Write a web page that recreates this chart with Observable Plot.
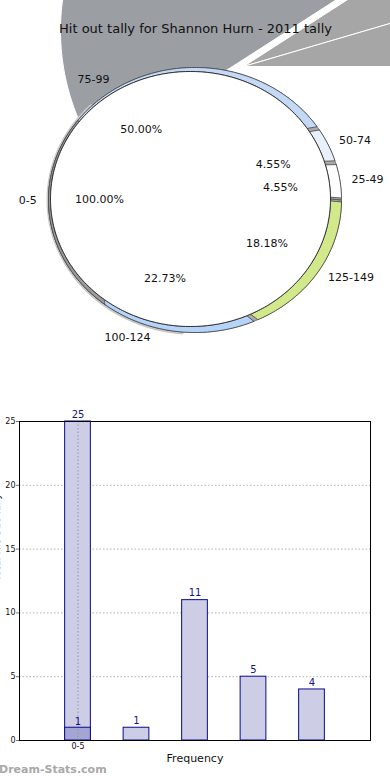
<!DOCTYPE html>
<html><head><meta charset="utf-8">
<script src="https://cdn.jsdelivr.net/npm/d3@7"></script>
<script src="https://cdn.jsdelivr.net/npm/@observablehq/plot@0.6"></script>
<style>
body{margin:0;background:#fff;font-family:"DejaVu Sans",sans-serif;}
#wrap{position:relative;width:390px;height:780px;overflow:hidden;}
#wm{position:absolute;left:-1px;top:763px;font:bold 11px "DejaVu Sans";color:#a8a8a8;}
svg{display:block;}
</style></head><body><div id="wrap"><div id="pie"></div><div id="bars"></div><div id="wm">Dream-Stats.com</div></div>
<script>
// ---------- data ----------
const title = "Hit out tally for Shannon Hurn - 2011 tally";
const pieCategories = ["125-149", "100-124", "75-99", "50-74", "25-49"];
const pieValues = [4, 5, 11, 1, 1];
const pieColors = ["#d2e98b", "#b6d3fa", "#c3d9f6", "#e8f0fb", "#ffffff"];
const baseCategory = "0-5";
const baseShare = 1.0; // 100.00%

const barValues = [25, 1, 11, 5, 4];
const overlayValues = [1];
const xTickLabels = ["0-5"];
const yTicks = [0, 5, 10, 15, 20, 25];
const xTitle = "Frequency";
const yTitle = "Total Hit Out Tally";

// ---------- pie geometry ----------
const topFace = {cx: 190, cy: 198.5, rx: 140, ry: 127.5};
const rimEdge = {cx: 194.5, cy: 199.5, rx: 146.5, ry: 132.5};
const wallRange = [128, 217];
const explode = {"75-99": {ax: 288, ay: 30, r: 228, fill: "#9b9ea3"},
                 "50-74": {ax: 243, ay: 66, r: 260, fill: "#a6a6a6"},
                 "25-49": {ax: 243, ay: 66, r: 260, fill: "#a6a6a6"}};

const rad = Math.PI / 180;
function arcPts(e, a0, a1) {
  const n = Math.max(2, Math.ceil(Math.abs(a1 - a0)) + 1);
  return d3.range(n).map(i => {
    const a = (a0 + (a1 - a0) * i / (n - 1)) * rad;
    return [e.cx + e.rx * Math.cos(a), e.cy + e.ry * Math.sin(a)];
  });
}
function ring(a0, a1) {
  const p = [...arcPts(rimEdge, a0, a1), ...arcPts(topFace, a1, a0)];
  p.push(p[0]);
  return p;
}
function wedge(g, a0, a1) {
  const e = {cx: g.ax, cy: g.ay, rx: g.r, ry: g.r};
  return [[g.ax, g.ay], ...arcPts(e, a0, a1), [g.ax, g.ay]];
}
const shape = (pts, o) => Plot.line(pts, {x: d => d[0], y: d => d[1], curve: "linear", ...o});

const pieData = pieCategories.map((c, i) => ({category: c, value: pieValues[i], color: pieColors[i]}));
const total = d3.sum(pieValues);
const pad = 0.03;
const arcs = d3.pie().sort(null).value(d => d.value)
  .startAngle(Math.PI / 2).endAngle(Math.PI / 2 + 2 * Math.PI)(pieData)
  .map(a => ({...a.data, a0: a.startAngle / rad - 90, a1: a.endAngle / rad - 90,
              mid: (a.startAngle + a.endAngle) / 2 / rad - 90, share: a.data.value / total}));
const base = {category: baseCategory, share: baseShare, mid: 180};

const fmtPct = d3.format(".2%");
const labelPos = (mid, e, f) => [e.cx + e.rx * f * Math.cos(mid * rad), e.cy + e.ry * f * Math.sin(mid * rad)];
const pctLabels = [...arcs, base].map(d => {
  const [x, y] = labelPos(d.mid, topFace, 0.65);
  return {x, y, text: fmtPct(d.share)};
});
const catLabels = [...arcs, base].map(d => {
  const [x, y] = labelPos(d.mid, rimEdge, 1.08);
  return {x, y, text: d.category, right: Math.cos(d.mid * rad) >= 0};
});

const pieMarks = [];
arcs.filter(d => explode[d.category]).forEach(d => {
  const g = explode[d.category];
  pieMarks.push(shape(wedge(g, d.a0, d.a1), {fill: g.fill, stroke: "#fff", strokeWidth: 1}));
});
pieMarks.push(Plot.text([title], {frameAnchor: "top", dy: 23, fontSize: 13, fill: "#111"}));
// soft shadow along the left/bottom of the base wall
pieMarks.push(shape(arcPts({...rimEdge, rx: rimEdge.rx + 0.5, ry: rimEdge.ry + 1}, 95, 225), {stroke: "#c8c8c8", strokeWidth: 3}));
pieMarks.push(shape(ring(0, 360), {fill: "#a9a9a9", stroke: "#555", strokeWidth: 0.7}));
arcs.forEach(d => {
  const p = pad / 2 / rad;
  pieMarks.push(shape(ring(d.a0 + p, d.a1 - p), {fill: d.color, stroke: "#333", strokeWidth: 0.7}));
});
pieMarks.push(shape(ring(wallRange[0], wallRange[1]), {fill: "#9a9a9a", stroke: "#444", strokeWidth: 0.7}));
pieMarks.push(shape([...arcPts(topFace, 0, 360)], {fill: "#fff", stroke: "#222", strokeWidth: 0.9}));
pieMarks.push(Plot.text(pctLabels, {x: "x", y: "y", text: "text", fontSize: 11, fill: "#111"}));
pieMarks.push(Plot.text(catLabels.filter(d => d.right), {x: "x", y: "y", text: "text", textAnchor: "start", fontSize: 11, fill: "#111"}));
pieMarks.push(Plot.text(catLabels.filter(d => !d.right), {x: "x", y: "y", text: "text", textAnchor: "end", fontSize: 11, fill: "#111"}));

const pie = Plot.plot({
  width: 390, height: 400, margin: 0,
  x: {domain: [0, 390], range: [0, 390], axis: null},
  y: {domain: [0, 400], range: [0, 400], axis: null},
  style: {fontFamily: "DejaVu Sans", overflow: "hidden", background: "#fff"},
  marks: pieMarks
});
document.getElementById("pie").append(pie);

// ---------- bar chart ----------
const barData = barValues.map((v, i) => ({i, value: v}));
const overlayData = overlayValues.map((v, i) => ({i, value: v}));
const halfW = 0.22;
const bars = Plot.plot({
  width: 390, height: 380, marginLeft: 19, marginRight: 20, marginTop: 21, marginBottom: 40,
  x: {domain: [-1, 5], axis: null},
  y: {domain: [0, 25], axis: null},
  style: {fontFamily: "DejaVu Sans", overflow: "visible", background: "#fff"},
  marks: [
    Plot.ruleY(yTicks.filter(v => v > 0 && v < 25), {stroke: "#b3b3b3", strokeDasharray: "1.5,2"}),
    Plot.rect(barData, {x1: d => d.i - halfW, x2: d => d.i + halfW, y1: 0, y2: "value", fill: "#cdcde5", stroke: "#0b0b8a", strokeWidth: 1}),
    Plot.rect(overlayData, {x1: d => d.i - halfW, x2: d => d.i + halfW, y1: 0, y2: "value", fill: "#a3a5d2", stroke: "#0b0b8a", strokeWidth: 1}),
    Plot.ruleX(xTickLabels.map((d, i) => i), {stroke: "#999", strokeDasharray: "1.5,2"}),
    Plot.text(barData, {x: "i", y: "value", text: d => String(d.value), dy: -7, fontSize: 10, fill: "#15158a"}),
    Plot.text(overlayData, {x: "i", y: "value", text: d => String(d.value), dy: -6, fontSize: 10, fill: "#15158a"}),
    Plot.axisY({ticks: yTicks, tickSize: 3, tickPadding: 1, fontSize: 8, stroke: "#777", fill: "#111", label: null}),
    Plot.frame({stroke: "#000", strokeWidth: 1}),
    Plot.text(xTickLabels, {x: (d, i) => i, frameAnchor: "bottom", dy: 8, fontSize: 8, fill: "#111"}),
    Plot.text([xTitle], {x: () => 2, frameAnchor: "bottom", dy: 21, fontSize: 11, fill: "#111"}),
    Plot.text([yTitle], {frameAnchor: "left", rotate: -90, dx: -23, fontSize: 10, fill: "#111"})
  ]
});
document.getElementById("bars").append(bars);
</script>
</body></html>
